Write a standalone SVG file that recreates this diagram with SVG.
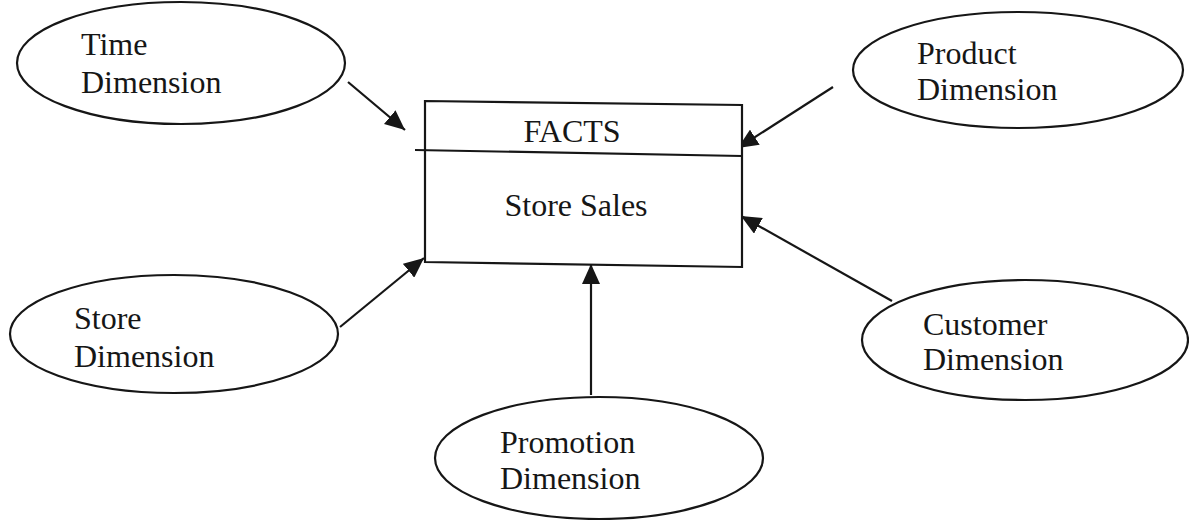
<svg xmlns="http://www.w3.org/2000/svg" width="1189" height="520" viewBox="0 0 1189 520">
  <style>
    .shape { fill: #ffffff; stroke: #161616; stroke-width: 2.2; }
    .label { font-family: "Liberation Serif", "Times New Roman", serif; font-size: 32px; fill: #161616; }
    .link { stroke: #161616; stroke-width: 2.2; fill: none; marker-end: url(#head); }
  </style>
  <defs>
    <marker id="head" markerUnits="userSpaceOnUse" markerWidth="22" markerHeight="18" refX="20" refY="9" orient="auto">
      <path d="M0,0 L20,9 L0,18 Z" fill="#161616"/>
    </marker>
  </defs>
  <rect width="1189" height="520" fill="#ffffff"/>

  <g id="connectors">
    <line class="link" x1="348" y1="82" x2="405" y2="130"/>
    <line class="link" x1="833" y1="87" x2="738" y2="148"/>
    <line class="link" x1="892" y1="301" x2="741" y2="216"/>
    <line class="link" x1="340" y1="327" x2="424" y2="258"/>
    <line class="link" x1="591" y1="395" x2="591" y2="264"/>
  </g>

  <g id="facts">
    <path class="shape" d="M425,101 L742,105 L742,267 L425,262 Z"/>
    <path d="M415,150 L742,156" stroke="#161616" stroke-width="2.2" fill="none"/>
    <text class="label" x="572" y="142" text-anchor="middle">FACTS</text>
    <text class="label" x="576" y="216" text-anchor="middle">Store Sales</text>
  </g>

  <g id="time-dimension">
    <ellipse class="shape" cx="181" cy="63" rx="164" ry="61"/>
    <text class="label" x="81" y="55">Time</text>
    <text class="label" x="81" y="93">Dimension</text>
  </g>

  <g id="product-dimension">
    <ellipse class="shape" cx="1018" cy="70" rx="165" ry="58"/>
    <text class="label" x="917" y="64">Product</text>
    <text class="label" x="917" y="100">Dimension</text>
  </g>

  <g id="store-dimension">
    <ellipse class="shape" cx="174" cy="334" rx="164" ry="59"/>
    <text class="label" x="74" y="329">Store</text>
    <text class="label" x="74" y="367">Dimension</text>
  </g>

  <g id="customer-dimension">
    <ellipse class="shape" cx="1025" cy="340" rx="163" ry="60"/>
    <text class="label" x="923" y="335">Customer</text>
    <text class="label" x="923" y="370">Dimension</text>
  </g>

  <g id="promotion-dimension">
    <ellipse class="shape" cx="599" cy="458" rx="164" ry="61"/>
    <text class="label" x="500" y="453">Promotion</text>
    <text class="label" x="500" y="489">Dimension</text>
  </g>
</svg>
